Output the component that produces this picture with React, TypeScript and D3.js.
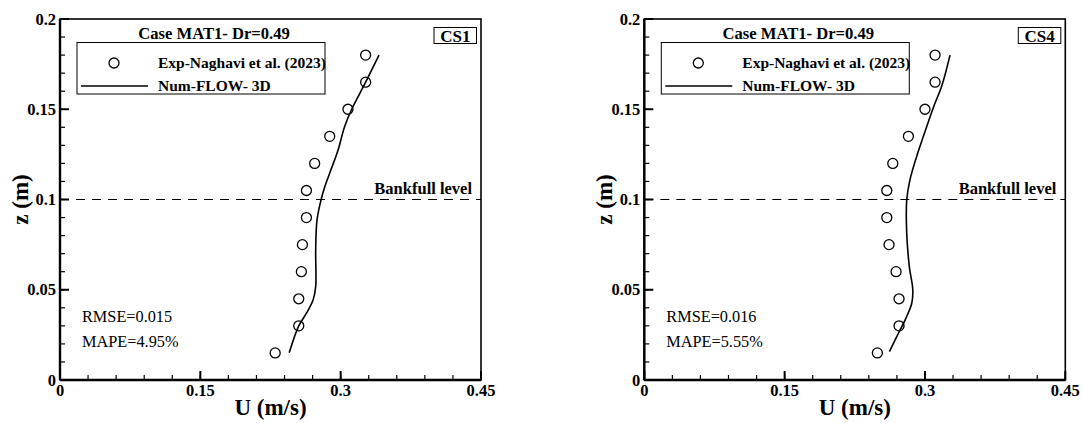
import * as d3 from "d3";

// Experimental depths (m) and velocities (m/s)
const expZ = [0.015, 0.03, 0.045, 0.06, 0.075, 0.09, 0.105, 0.12, 0.135, 0.15, 0.165, 0.18];
const expCS1 = [0.23, 0.2552, 0.2552, 0.258, 0.2591, 0.2634, 0.2634, 0.2722, 0.2883, 0.3078, 0.3267, 0.3267];
const expCS4 = [0.2491, 0.2723, 0.2723, 0.2691, 0.2616, 0.2592, 0.2592, 0.2656, 0.2823, 0.3, 0.3108, 0.3108];

// FLOW-3D profiles
const numZCS1 = [0.0151, 0.03, 0.037, 0.0443, 0.0517, 0.072, 0.0886, 0.0997, 0.107, 0.117, 0.127, 0.14, 0.1496, 0.165, 0.18];
const numUCS1 = [0.245, 0.2552, 0.2634, 0.2705, 0.2733, 0.2733, 0.2747, 0.279, 0.283, 0.29, 0.297, 0.304, 0.3114, 0.3267, 0.341];
const numZCS4 = [0.0157, 0.0259, 0.0332, 0.0425, 0.0499, 0.0628, 0.0813, 0.0997, 0.111, 0.124, 0.135, 0.151, 0.163, 0.18];
const numUCS4 = [0.262, 0.2716, 0.2787, 0.2859, 0.287, 0.2833, 0.2805, 0.2805, 0.284, 0.2912, 0.2983, 0.309, 0.318, 0.3268];

const xTicks = [0, 0.15, 0.3, 0.45];
const xTickLabels = ["0", "0.15", "0.3", "0.45"];
const yTicks = [0, 0.05, 0.1, 0.15, 0.2];
const yTickLabels = ["0", "0.05", "0.1", "0.15", "0.2"];

const panels = [
  {id: "CS1", left: 60, exp: expCS1, numZ: numZCS1, numU: numUCS1, rmse: "RMSE=0.015", mape: "MAPE=4.95%"},
  {id: "CS4", left: 644.3, exp: expCS4, numZ: numZCS4, numU: numUCS4, rmse: "RMSE=0.016", mape: "MAPE=5.55%"},
];

const title = "Case MAT1- Dr=0.49";
const bankfull = 0.1;

const W = 421;
const TOP = 19;
const BOTTOM = 380;
const serif = "'Liberation Serif', 'Times New Roman', serif";

function Panel({p}) {
  const x = d3.scaleLinear().domain([0, 0.45]).range([p.left, p.left + W]);
  const y = d3.scaleLinear().domain([0, 0.2]).range([BOTTOM, TOP]);
  const line = d3.line().x(d => x(d[0])).y(d => y(d[1])).curve(d3.curveCatmullRom);
  const numPts = p.numU.map((u, i) => [u, p.numZ[i]]);
  const xMinor = d3.range(0, 0.4501, 0.03);
  const yMinor = d3.range(0, 0.2001, 0.01);
  const x0 = x(0), x1 = x(0.45);

  return (
    <g>
      {/* minor ticks */}
      {xMinor.map((t, i) => (
        <line key={"xm" + i} x1={x(t)} x2={x(t)} y1={BOTTOM} y2={BOTTOM - 5} stroke="#000" strokeWidth={1.2} />
      ))}
      {yMinor.map((t, i) => (
        <line key={"ym" + i} x1={x0} x2={x0 + 5} y1={y(t)} y2={y(t)} stroke="#000" strokeWidth={1.2} />
      ))}
      {xTicks.map((t, i) => (
        <g key={"xt" + i}>
          <line x1={x(t)} x2={x(t)} y1={BOTTOM} y2={BOTTOM - 9} stroke="#000" strokeWidth={2} />
          <text x={x(t)} y={BOTTOM + 16} textAnchor="middle" fontSize={16.5} fontWeight="bold">{xTickLabels[i]}</text>
        </g>
      ))}
      {yTicks.map((t, i) => (
        <g key={"yt" + i}>
          <line x1={x0} x2={x0 + 9} y1={y(t)} y2={y(t)} stroke="#000" strokeWidth={2} />
          <text x={x0 - 4} y={y(t) + 5.5} textAnchor="end" fontSize={16.5} fontWeight="bold">{yTickLabels[i]}</text>
        </g>
      ))}
      <rect x={x0} y={TOP} width={W} height={BOTTOM - TOP} fill="none" stroke="#000" strokeWidth={1.6} />
      <line x1={x0} x2={x1} y1={BOTTOM} y2={BOTTOM} stroke="#000" strokeWidth={2.4} />
      <line x1={x0} x2={x0} y1={TOP} y2={BOTTOM} stroke="#000" strokeWidth={2.4} />

      {/* bankfull level */}
      <line x1={x0} x2={x1} y1={y(bankfull)} y2={y(bankfull)} stroke="#000" strokeWidth={1.2} strokeDasharray="9,7" />
      <text x={x1 - 9} y={y(bankfull) - 6} textAnchor="end" fontSize={16.5} fontWeight="bold">Bankfull level</text>

      <path d={line(numPts)} fill="none" stroke="#000" strokeWidth={1.6} />
      {p.exp.map((u, i) => (
        <circle key={"c" + i} cx={x(u)} cy={y(expZ[i])} r={5} fill="none" stroke="#000" strokeWidth={1.3} />
      ))}

      {/* title and legend */}
      <text x={x0 + 154} y={39} textAnchor="middle" fontSize={16.6} fontWeight="bold">{title}</text>
      <rect x={x0 + 17} y={42.5} width={248} height={51.5} fill="#fff" stroke="#000" strokeWidth={1} />
      <circle cx={x0 + 54} cy={63} r={5} fill="none" stroke="#000" strokeWidth={1.3} />
      <text x={x0 + 98} y={68} fontSize={15.5} fontWeight="bold">Exp-Naghavi et al. (2023)</text>
      <line x1={x0 + 21} x2={x0 + 88} y1={86} y2={86} stroke="#000" strokeWidth={1.6} />
      <text x={x0 + 98} y={91} fontSize={15.5} fontWeight="bold">Num-FLOW- 3D</text>

      <rect x={x1 - 47} y={27.5} width={42.5} height={16} fill="#fff" stroke="#000" strokeWidth={1} />
      <text x={x1 - 25.7} y={41.5} textAnchor="middle" fontSize={17} fontWeight="bold">{p.id}</text>

      <text x={x0 + 22} y={322} fontSize={16.3}>{p.rmse}</text>
      <text x={x0 + 22} y={347} fontSize={16.3}>{p.mape}</text>

      {/* axis titles */}
      <text x={(x0 + x1) / 2} y={415} textAnchor="middle" fontSize={23} fontWeight="bold">U (m/s)</text>
      <text transform={`translate(${x0 - 32},${y(0.1)}) rotate(-90)`} textAnchor="middle" fontSize={23} fontWeight="bold">z (m)</text>
    </g>
  );
}

export default function App() {
  return (
    <svg width={1083} height={423} style={{position: "absolute", left: 0, top: 0, background: "#fff"}} fontFamily={serif}>
      <rect width={1083} height={423} fill="#fff" />
      {panels.map(p => <Panel key={p.id} p={p} />)}
    </svg>
  );
}
